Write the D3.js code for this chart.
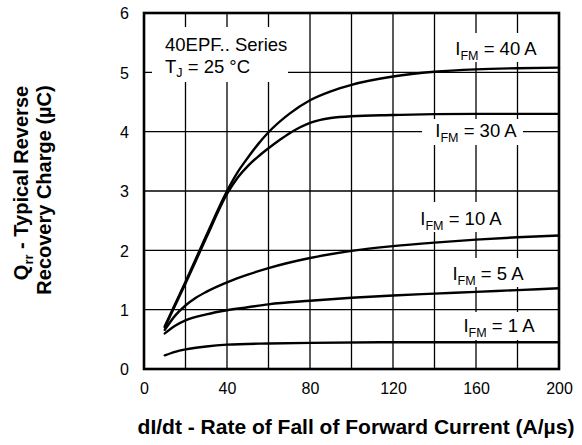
<!DOCTYPE html>
<html><head><meta charset="utf-8">
<script src="https://cdn.jsdelivr.net/npm/d3@7"></script>
<style>
html,body{margin:0;padding:0;background:#fff;}
svg text{font-family:"Liberation Sans",Arial,Helvetica,sans-serif;fill:#000;}
</style></head>
<body><svg id="c" width="582" height="445"></svg>
<script>
// ---- data ----
const xTicks = [0, 40, 80, 120, 160, 200];
const yTicks = [0, 1, 2, 3, 4, 5, 6];
const xGrid = [20, 40, 60, 80, 100, 120, 140, 160, 180];
const yGrid = [1, 2, 3, 4, 5];
const seriesNames = ["40", "30", "10", "5", "1"];
const s40 = [[10,0.72],[20,1.47],[30,2.25],[40,3.0],[45,3.31],[50,3.56],[55,3.79],[60,3.99],[70,4.3],[80,4.53],[90,4.68],[100,4.79],[120,4.93],[140,5.01],[160,5.05],[180,5.07],[200,5.08]];
const s30 = [[10,0.70],[20,1.44],[30,2.21],[40,2.95],[45,3.22],[50,3.42],[55,3.58],[60,3.72],[65,3.85],[70,3.97],[75,4.07],[80,4.15],[85,4.2],[90,4.23],[100,4.26],[120,4.28],[140,4.295],[160,4.30],[200,4.30]];
const s10 = [[10,0.66],[15,0.9],[20,1.07],[25,1.2],[30,1.3],[40,1.46],[50,1.59],[60,1.70],[80,1.87],[100,1.99],[120,2.07],[140,2.13],[160,2.18],[180,2.22],[200,2.25]];
const s5 = [[10,0.60],[15,0.73],[20,0.82],[30,0.92],[40,0.99],[50,1.04],[60,1.09],[80,1.15],[100,1.20],[120,1.24],[140,1.27],[160,1.30],[180,1.33],[200,1.36]];
const s1 = [[10,0.23],[15,0.29],[20,0.33],[30,0.38],[40,0.41],[60,0.43],[80,0.44],[120,0.45],[200,0.45]];
const seriesData = [s40, s30, s10, s5, s1];
const legendLine1 = "40EPF.. Series";

// ---- layout ----
const L = 144, R = 559, T = 13, B = 369;
const svg = d3.select("#c");
const x = d3.scaleLinear().domain([0, 200]).range([L, R]);
const y = d3.scaleLinear().domain([0, 6]).range([B, T]);

// grid
const g = svg.append("g");
g.selectAll("line.vx").data(xGrid).enter().append("line")
  .attr("x1", d => x(d)).attr("x2", d => x(d)).attr("y1", T).attr("y2", B)
  .attr("stroke", "#000").attr("stroke-width", 1.3);
g.selectAll("line.hy").data(yGrid).enter().append("line")
  .attr("y1", d => y(d)).attr("y2", d => y(d)).attr("x1", L).attr("x2", R)
  .attr("stroke", "#000").attr("stroke-width", 1.3);

// white boxes behind labels
const boxes = [
  [152, 27, 136, 55],   // legend
  [445, 33, 100, 29],   // 40 A
  [422, 119, 101, 26],  // 30 A
  [415, 202, 92, 30],   // 10 A
  [447, 258, 81, 29],   // 5 A
  [458, 312, 82, 28]    // 1 A
];
svg.selectAll("rect.bx").data(boxes).enter().append("rect")
  .attr("x", d => d[0]).attr("y", d => d[1]).attr("width", d => d[2]).attr("height", d => d[3])
  .attr("fill", "#fff");

// curves
const line = d3.line().x(d => x(d[0])).y(d => y(d[1])).curve(d3.curveMonotoneX);
svg.selectAll("path.s").data(seriesData).enter().append("path")
  .attr("d", line).attr("fill", "none").attr("stroke", "#000")
  .attr("stroke-width", 2.4).attr("stroke-linejoin", "round").attr("stroke-linecap", "round");

// frame
svg.append("rect").attr("x", L).attr("y", T).attr("width", R - L).attr("height", B - T)
  .attr("fill", "none").attr("stroke", "#000").attr("stroke-width", 2.6);

// axes (labels only)
const xAxis = d3.axisBottom(x).tickValues(xTicks).tickSize(0).tickPadding(0).tickFormat(d3.format("d"));
const xa = svg.append("g").attr("transform", `translate(0,${B})`).call(xAxis);
xa.select(".domain").remove();
xa.selectAll("text").attr("font-size", 16).attr("dy", null).attr("y", 25)
  .style("font-family", '"Liberation Sans",Arial,sans-serif');
const yAxis = d3.axisLeft(y).tickValues(yTicks).tickSize(0).tickPadding(0).tickFormat(d3.format("d"));
const ya = svg.append("g").attr("transform", `translate(${L - 15},0)`).call(yAxis);
ya.select(".domain").remove();
ya.selectAll("text").attr("font-size", 16).attr("dy", "0.36em")
  .style("font-family", '"Liberation Sans",Arial,sans-serif');

// axis titles
svg.append("text").attr("x", 356).attr("y", 434).attr("text-anchor", "middle")
  .attr("font-size", 21).attr("font-weight", "bold")
  .text("dI/dt - Rate of Fall of Forward Current (A/µs)");
const t1 = svg.append("text").attr("transform", "translate(28,183) rotate(-90)")
  .attr("text-anchor", "middle").attr("font-size", 20).attr("font-weight", "bold");
t1.append("tspan").text("Q");
t1.append("tspan").attr("font-size", 13).attr("dy", 5).text("rr");
t1.append("tspan").attr("dy", -5).text(" - Typical Reverse");
svg.append("text").attr("transform", "translate(51,190) rotate(-90)")
  .attr("text-anchor", "middle").attr("font-size", 20).attr("font-weight", "bold")
  .text("Recovery Charge (µC)");

// legend
svg.append("text").attr("x", 165).attr("y", 51).attr("font-size", 18.5).text(legendLine1);
const tj = svg.append("text").attr("x", 165).attr("y", 73).attr("font-size", 18.5);
tj.append("tspan").text("T");
tj.append("tspan").attr("font-size", 12.5).attr("dy", 4).text("J");
tj.append("tspan").attr("dy", -4).text(" = 25 °C");

// curve labels
const labelPos = [[496, 55], [476, 137], [461, 225], [488, 280], [499, 332]];
seriesNames.forEach((n, i) => {
  const t = svg.append("text").attr("x", labelPos[i][0]).attr("y", labelPos[i][1])
    .attr("text-anchor", "middle").attr("font-size", 18.5);
  t.append("tspan").text("I");
  t.append("tspan").attr("font-size", 12.5).attr("dy", 5).text("FM");
  t.append("tspan").attr("dy", -5).text(` = ${n} A`);
});
</script></body></html>
